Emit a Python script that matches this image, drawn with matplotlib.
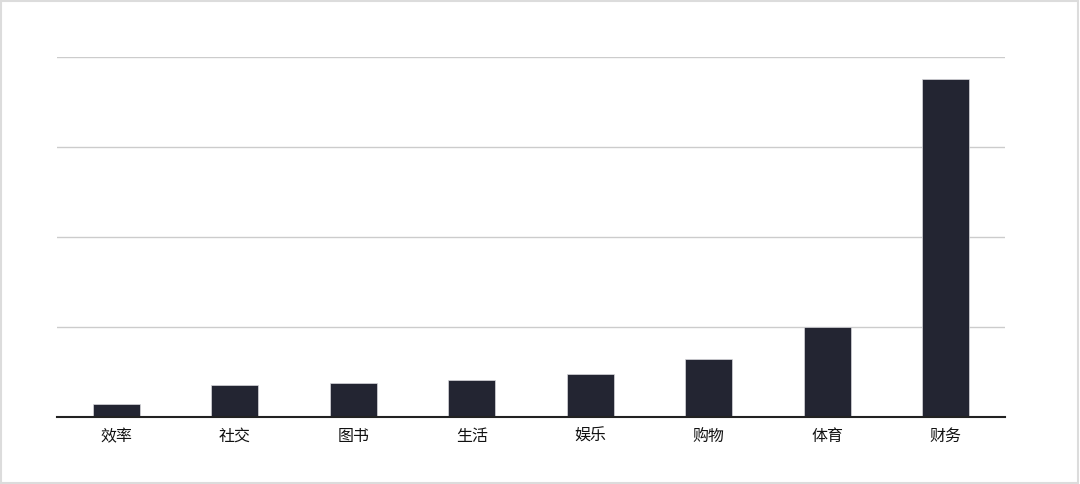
import matplotlib
matplotlib.use("Agg")
import matplotlib.pyplot as plt
from matplotlib.patches import Rectangle

plt.rcParams['font.family'] = ['Noto Sans CJK SC', 'DejaVu Sans']

categories = ["效率", "社交", "图书", "生活", "娱乐", "购物", "体育", "财务"]
values = [1.5, 3.6, 3.8, 4.1, 4.8, 6.5, 10.0, 37.6]
grid_ticks = [0, 10, 20, 30, 40]

fig = plt.figure(figsize=(10.8, 4.84), dpi=100)
ax = fig.add_axes([57 / 1080, 1 - 417 / 484, 948 / 1080, (417 - 57.3) / 484])

x = list(range(len(categories)))
ax.bar(x, values, width=0.4, color="#232532", edgecolor="#d8d8dc", linewidth=0.5, zorder=3)

ax.set_xlim(-0.5, len(categories) - 0.5)
ax.set_ylim(0, 40)
ax.set_yticks(grid_ticks)
ax.set_yticklabels([])
ax.grid(axis="y", color="#cccccc", linewidth=1, zorder=0)
ax.tick_params(axis="y", length=0)

ax.set_xticks(x)
ax.set_xticklabels(categories, fontsize=11.5, color="#111111", fontweight="medium")
ax.tick_params(axis="x", length=0, pad=8)

for side in ["top", "right", "left"]:
    ax.spines[side].set_visible(False)
ax.spines["bottom"].set_color("#222222")
ax.spines["bottom"].set_linewidth(1.5)
ax.spines["bottom"].set_zorder(4)

# light frame round the picture
fig.patches.append(Rectangle((0.001, 0.002), 0.997, 0.995, transform=fig.transFigure,
                             fill=False, edgecolor="#dcdcdc", linewidth=1.5))

fig.savefig("out.png", dpi=100)
